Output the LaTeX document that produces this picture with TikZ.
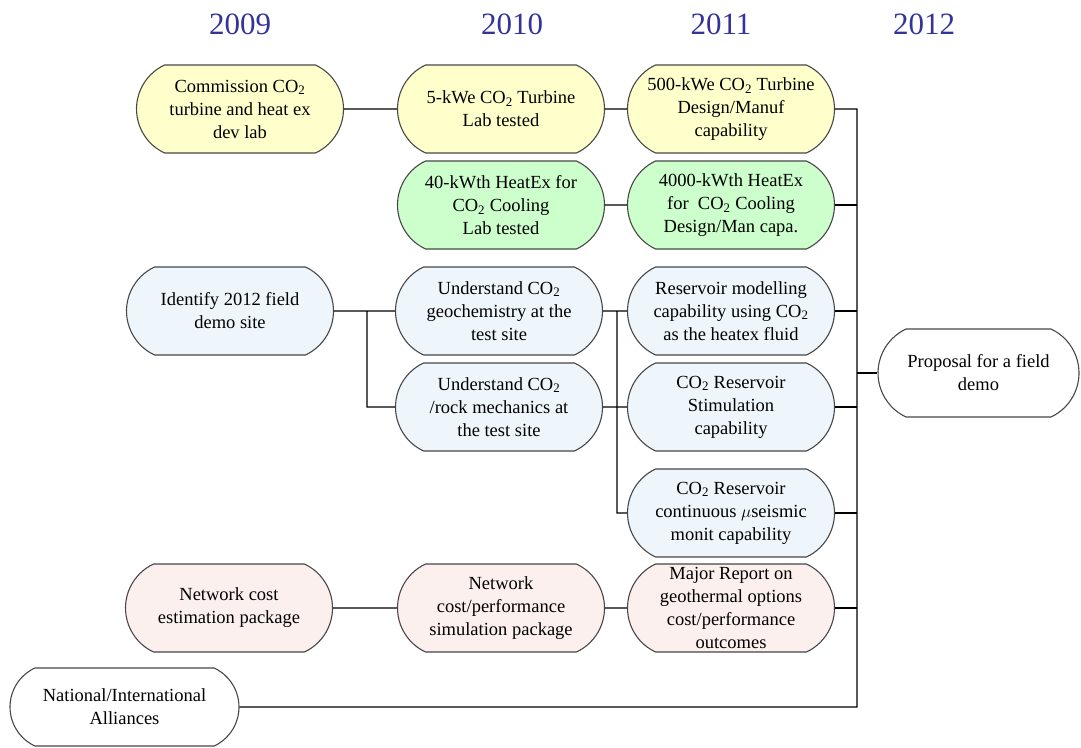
\documentclass[tikz,border=0pt]{standalone}
\usepackage{fontspec}
\setmainfont{Liberation Serif}
\newfontfamily\boxfont{Liberation Serif}
\usepackage{tikz}
\usetikzlibrary{shapes,positioning}
\definecolor{tyellow}{HTML}{FFFFCC}
\definecolor{tgreen}{HTML}{CCFFCC}
\definecolor{tblue}{HTML}{EEF6FC}
\definecolor{tpink}{HTML}{FCF0EE}
\definecolor{yearblue}{HTML}{33339A}
\tikzset{task/.style={rounded rectangle, rounded rectangle arc length=130,
    draw=black!72, line width=1.1pt, minimum width=211pt, minimum height=88pt,
    inner xsep=2pt, inner ysep=0pt, align=center,
    font=\boxfont\fontsize{18.5}{23}\selectfont},
  year/.style={text=yearblue, font=\boxfont\fontsize{31}{36}\selectfont},
  bus/.style={draw=black, line width=1.2pt}
}

\begin{document}
\begin{tikzpicture}[x=1pt, y=-1pt, node distance=96pt, on grid]
  \useasboundingbox (0,0) rectangle (1081,747);
  % years
  \node[year] (y_0) at (240,24) {2009};
  \node[year] (y_1) at (512,24) {2010};
  \node[year] (y_2) at (721,24) {2011};
  \node[year] (y_3) at (924,24) {2012};

  % turbine and heat exchanger
  \node[task,fill=tyellow] (tu_0) at (240,109) {Commission CO\textsubscript{2}\\turbine and heat ex\\dev lab};
  \node[task,fill=tyellow] (tu_1) at (501,109) {5-kWe CO\textsubscript{2} Turbine\\Lab tested};
  \node[task,fill=tyellow] (tu_2) [right =230pt of tu_1] {500-kWe CO\textsubscript{2} Turbine\\Design/Manuf\\capability};
  \node[task,fill=tgreen]  (hx_1) [below =of tu_1] {40-kWth HeatEx for\\CO\textsubscript{2} Cooling\\Lab tested};
  \node[task,fill=tgreen]  (hx_2) [right =230pt of hx_1] {4000-kWth HeatEx\\for~ CO\textsubscript{2} Cooling\\Design/Man capa.};

  % site and reservoir
  \node[task,fill=tblue] (si_0) at (230,311) {Identify 2012 field\\demo site};
  \node[task,fill=tblue] (si_1) at (499,311) {Understand CO\textsubscript{2}\\geochemistry at the\\test site};
  \node[task,fill=tblue] (si_2) [below =of si_1] {Understand CO\textsubscript{2}\\/rock mechanics at\\the test site};
  \node[task,fill=tblue] (re_1) [right =232pt of si_1] {Reservoir modelling\\capability using CO\textsubscript{2}\\as the heatex fluid};
  \node[task,fill=tblue] (re_2) [right =232pt of si_2] {CO\textsubscript{2} Reservoir\\Stimulation\\capability};
  \node[task,fill=tblue] (re_3) [below =106pt of re_2] {CO\textsubscript{2} Reservoir\\continuous $\mu$seismic\\monit capability};

  % network
  \node[task,fill=tpink] (ne_0) at (229,608) {Network cost\\estimation package};
  \node[task,fill=tpink] (ne_1) at (501,608) {Network\\cost/performance\\simulation package};
  \node[task,fill=tpink] (ne_2) [right =230pt of ne_1] {Major Report on\\geothermal options\\cost/performance\\outcomes};

  \node[task,fill=white,minimum width=233pt,minimum height=78pt] (al) at (124.5,707) {National/International\\Alliances};
  \node[task,fill=white,minimum width=205pt] (pr) at (978.5,373) {Proposal for a field\\demo};

  % bus points
  \coordinate (b_1) at (367,311);
  \coordinate (b_2) at (617,311);
  \coordinate (b_3) at (857,109);

  \path[bus] (tu_0) -- (tu_1)
             (tu_1) -- (tu_2)
             (hx_1) -- (hx_2)
             (si_0) -- (si_1)
             (b_1) |- (si_2.west)
             (si_1) -- (re_1)
             (si_2) -- (re_2)
             (b_2) |- (re_3.west)
             (ne_0) -- (ne_1)
             (ne_1) -- (ne_2)
             (tu_2.east) -- (b_3) |- (al.east);
  \foreach \n in {hx_2,re_1,re_2,re_3,ne_2}
    \draw[bus] (\n.east) -- (\n.east -| b_3);
  \draw[bus] (pr.west) -- (pr.west -| b_3);
\end{tikzpicture}
\end{document}
